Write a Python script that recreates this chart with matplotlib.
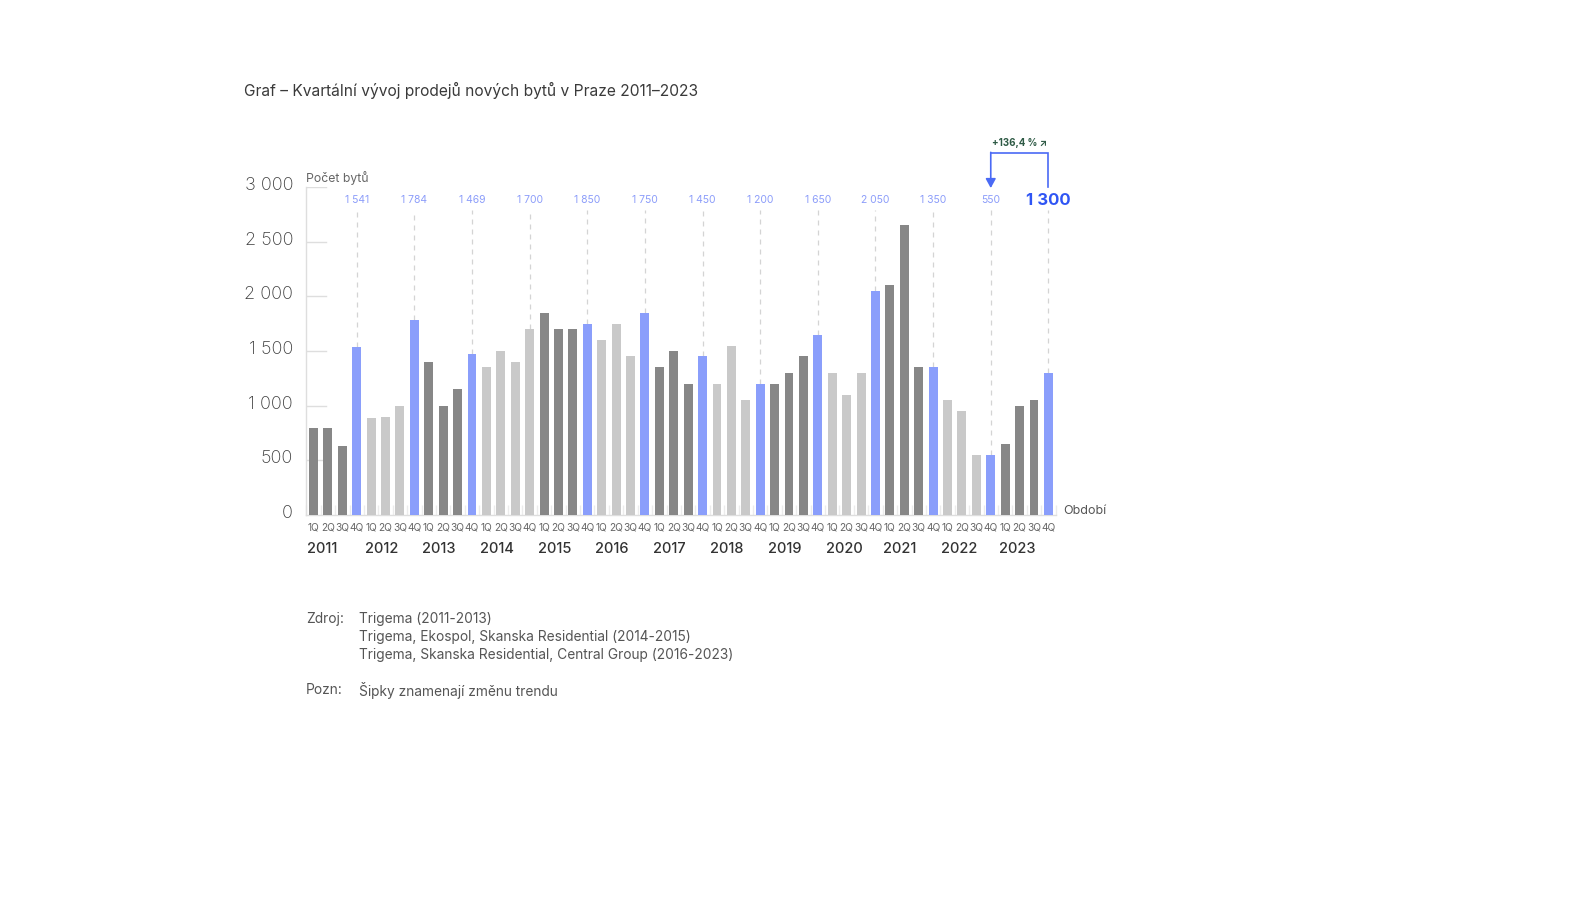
import matplotlib
matplotlib.use("Agg")
import matplotlib.pyplot as plt
import matplotlib.transforms as mtransforms
import numpy as np

# ---------------- data ----------------
years = [2011, 2012, 2013, 2014, 2015, 2016, 2017, 2018, 2019, 2020, 2021, 2022, 2023]
quarters = ["1Q", "2Q", "3Q", "4Q"]
sales = [
    800, 800, 630, 1541,      # 2011
    890, 900, 1000, 1784,     # 2012
    1400, 1000, 1150, 1469,   # 2013
    1350, 1500, 1400, 1700,   # 2014
    1850, 1700, 1700, 1750,   # 2015
    1600, 1750, 1450, 1850,   # 2016
    1350, 1500, 1200, 1450,   # 2017
    1200, 1550, 1050, 1200,   # 2018
    1200, 1300, 1450, 1650,   # 2019
    1300, 1100, 1300, 2050,   # 2020
    2100, 2650, 1350, 1350,   # 2021
    1050, 950, 550, 550,      # 2022
    650, 1000, 1050, 1300,    # 2023
]
# labels printed above the 4Q bars (as they appear in the original)
q4_labels = ["1 541", "1 784", "1 469", "1 700", "1 850", "1 750", "1 450",
             "1 200", "1 650", "2 050", "1 350", "550", "1 300"]
change_text = "+136,4 % ↗"
yticks = [0, 500, 1000, 1500, 2000, 2500, 3000]
ytick_labels = ["0", "500", "1 000", "1 500", "2 000", "2 500", "3 000"]

# ---------------- style ----------------
FONT = ["Inter", "DejaVu Sans"]
plt.rcParams["font.family"] = FONT
DARK = "#878787"
LIGHT = "#c9c9c9"
BLUE = "#8a9efb"
LABEL_BLUE = "#8c9dfa"
STRONG_BLUE = "#2f55f4"
BRACKET = "#4a6af5"
GREEN = "#2e5a45"
GRID = "#dedede"

W, H = 1595, 897
fig = plt.figure(figsize=(W / 100, H / 100), dpi=100)


def fx(px):
    return px / W


def fy(py):
    return 1 - py / H


left_px, right_px = 306.3, 1055.6
top_px, base_px = 187.0, 515.0
ax = fig.add_axes([fx(left_px), fy(base_px), (right_px - left_px) / W, (base_px - top_px) / H])

n = len(sales)
x = np.arange(n)
colors = []
for i in range(n):
    yi, q = divmod(i, 4)
    if q == 3 and years[yi] != 2014:
        colors.append(BLUE)
    else:
        colors.append(DARK if yi % 2 == 0 else LIGHT)

ax.bar(x, sales, width=0.62, color=colors, zorder=3)

ax.set_xlim(-0.5, n - 0.5)
ax.set_ylim(0, 3000)

# spines
for s in ["top", "right"]:
    ax.spines[s].set_visible(False)
ax.spines["left"].set_color(GRID)
ax.spines["bottom"].set_color(GRID)
ax.spines["left"].set_linewidth(1.0)
ax.spines["bottom"].set_linewidth(1.0)

# short gridlines
for v in yticks[1:]:
    ax.axhline(v, xmin=0, xmax=0.026, color=GRID, lw=1.0, zorder=1)

ax.set_yticks(yticks)
ax.set_yticklabels(ytick_labels, fontsize=13, color="#3c3c3c", fontweight="light")
ax.tick_params(axis="y", length=0, pad=9.5)
up = mtransforms.ScaledTranslation(0, 3.5 / 100, fig.dpi_scale_trans)
for lbl in ax.get_yticklabels():
    lbl.set_transform(lbl.get_transform() + up)

ax.set_xticks(x)
ax.set_xticklabels([quarters[i % 4] for i in range(n)], fontsize=7.3, color="#666666")
ax.tick_params(axis="x", length=0, pad=5.5)
ax.set_xticks(np.arange(-0.5, n, 1.0), minor=True)
ax.tick_params(axis="x", which="minor", direction="in", length=7, color="#ececec", width=1)

# year labels
btrans = mtransforms.blended_transform_factory(ax.transData, fig.transFigure)
for yi, yr in enumerate(years):
    ax.text(yi * 4 - 0.45, fy(549), str(yr), transform=btrans, ha="left", va="center",
            fontsize=10.5, color="#333333", fontweight="medium")

# 4Q labels and dashed guides
label_y = 2880
guide_top = 2790
for k in range(len(years)):
    i = k * 4 + 3
    last = (k == len(years) - 1)
    ax.plot([i, i], [sales[i], guide_top], ls=(0, (4, 4)), color="#d4d4d4", lw=0.9,
            zorder=2, clip_on=False)
    if last:
        ax.text(i, label_y, q4_labels[k], ha="center", va="center", fontsize=12,
                fontweight="bold", color=STRONG_BLUE, clip_on=False)
    else:
        ax.text(i, label_y, q4_labels[k], ha="center", va="center", fontsize=7.5,
                color=LABEL_BLUE, clip_on=False)

# bracket annotation between 4Q 2022 and 4Q 2023
i_a, i_b = n - 5, n - 1
top_v = 3312
ax.plot([i_b, i_b, i_a], [3004, top_v, top_v], color=BRACKET, lw=1.2, clip_on=False,
        solid_joinstyle="miter")
ax.annotate("", xy=(i_a, 2990), xytext=(i_a, top_v + 5),
            arrowprops=dict(arrowstyle="-|>,head_length=0.55,head_width=0.3",
                            color=BRACKET, lw=1.2, shrinkA=0, shrinkB=0),
            annotation_clip=False)
ax.text((i_a + i_b) / 2, 3405, change_text, ha="center", va="center",
        fontsize=7, fontweight="bold", color=GREEN, clip_on=False, family=FONT)

# axis captions
fig.text(fx(306), fy(178), "Počet bytů", ha="left", va="center", fontsize=8.8, color="#666666")
fig.text(fx(1063), fy(511), "Období", ha="left", va="center", fontsize=9, color="#555555")

# title
fig.text(fx(244), fy(90), "Graf – Kvartální vývoj prodejů nových bytů v Praze 2011–2023",
         ha="left", va="center", fontsize=11.2, color="#3a3a3a")

# footer
FOOT = "#555555"
FS = 9.9
fig.text(fx(306), fy(619), "Zdroj:", ha="left", va="center", fontsize=FS, color=FOOT)
src_lines = ["Trigema (2011-2013)",
             "Trigema, Ekospol, Skanska Residential (2014-2015)",
             "Trigema, Skanska Residential, Central Group (2016-2023)"]
for ln, yy in zip(src_lines, [619, 637, 654.5]):
    fig.text(fx(359), fy(yy), ln, ha="left", va="center", fontsize=FS, color=FOOT)
fig.text(fx(306), fy(690), "Pozn:", ha="left", va="center", fontsize=FS, color=FOOT)
fig.text(fx(359), fy(690), "Šipky znamenají změnu trendu", ha="left", va="center",
         fontsize=FS, color=FOOT)

fig.savefig("out.png", dpi=100, facecolor="white")
